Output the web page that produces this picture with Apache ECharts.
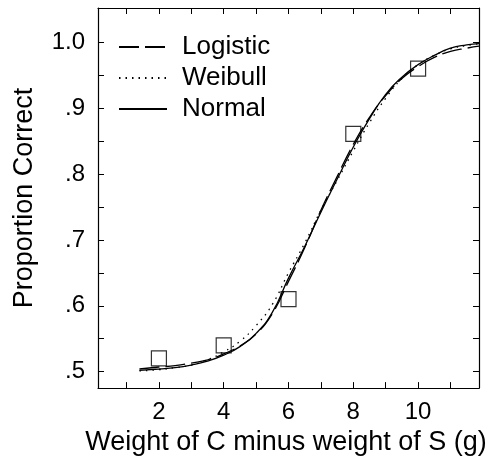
<!DOCTYPE html>
<html>
<head>
<meta charset="utf-8">
<script src="https://cdn.jsdelivr.net/npm/echarts@6/dist/echarts.min.js"></script>
<style>
  html, body { margin: 0; padding: 0; background: #fff; }
  #main { width: 498px; height: 461px; }
</style>
</head>
<body>
<div id="main"></div>
<script>
// observed proportions
const weightDiff = [2, 4, 6, 8, 10];
const observed = [0.52, 0.54, 0.61, 0.861, 0.96];

// fitted curves
const curveX = [1.4, 2, 2.5, 3, 3.5, 4, 4.5, 5, 5.5, 6, 6.5, 7, 7.5, 8, 8.5, 9, 9.5, 10, 10.5, 11, 11.5, 11.88];
const logistic = [0.504, 0.507, 0.509, 0.513, 0.518, 0.527, 0.539, 0.557, 0.588, 0.637, 0.688, 0.745, 0.796, 0.845, 0.886, 0.919, 0.945, 0.963, 0.977, 0.986, 0.991, 0.994];
const weibull = [0.501, 0.503, 0.506, 0.510, 0.518, 0.530, 0.546, 0.570, 0.602, 0.650, 0.695, 0.745, 0.790, 0.835, 0.878, 0.915, 0.945, 0.966, 0.980, 0.990, 0.995, 0.998];
const normal = [0.502, 0.504, 0.506, 0.510, 0.516, 0.525, 0.538, 0.558, 0.590, 0.642, 0.690, 0.742, 0.792, 0.841, 0.884, 0.921, 0.947, 0.966, 0.980, 0.991, 0.996, 0.998];

const xTicks = [1, 2, 3, 4, 5, 6, 7, 8, 9, 10, 11];
const xLabels = [2, 4, 6, 8, 10];
const yTicks = [0.5, 0.55, 0.6, 0.65, 0.7, 0.75, 0.8, 0.85, 0.9, 0.95, 1.0];
const yLabels = [0.5, 0.6, 0.7, 0.8, 0.9, 1.0];

const font = 'Liberation Sans, Arial, Helvetica, sans-serif';
const pairs = (xs, ys) => xs.map((x, i) => [x, ys[i]]);

const myChart = echarts.init(document.getElementById('main'));

const lineAxis = { show: true, lineStyle: { color: '#000', width: 1.2 } };
const tickIn = (vals) => ({ show: true, inside: true, length: 6, customValues: vals, lineStyle: { color: '#000', width: 1 } });

const option = {
  backgroundColor: '#fff',
  animation: false,
  grid: { left: 98, top: 8, right: 19, bottom: 71 },
  legend: {
    orient: 'vertical',
    left: 113,
    top: 29,
    itemWidth: 48,
    itemHeight: 14,
    itemGap: 5,
    data: ['Logistic', 'Weibull', 'Normal'],
    itemStyle: { opacity: 0 },
    textStyle: { fontFamily: font, fontSize: 26, color: '#000', padding: [0, 0, 0, 10] }
  },
  xAxis: [{
    type: 'value',
    min: 0.12,
    max: 11.88,
    axisLine: lineAxis,
    axisTick: tickIn(xTicks),
    splitLine: { show: false },
    axisLabel: { customValues: xLabels, margin: 12, fontFamily: font, fontSize: 24, color: '#000' },
    name: 'Weight of C minus weight of S (g)',
    nameLocation: 'middle',
    nameGap: 36,
    nameTextStyle: { fontFamily: font, fontSize: 27, color: '#000', padding: [0, 5, 0, 0] }
  }, {
    type: 'value',
    position: 'top',
    min: 0.12,
    max: 11.88,
    axisLine: lineAxis,
    axisTick: tickIn(xTicks),
    splitLine: { show: false },
    axisLabel: { show: false }
  }],
  yAxis: [{
    type: 'value',
    min: 0.475,
    max: 1.052,
    axisLine: lineAxis,
    axisTick: tickIn(yTicks),
    splitLine: { show: false },
    axisLabel: {
      customValues: yLabels,
      margin: 13,
      fontFamily: font, fontSize: 24, color: '#000',
      formatter: v => v >= 0.999 ? '1.0' : v.toFixed(1).replace(/^0/, '')
    },
    name: 'Proportion Correct',
    nameLocation: 'middle',
    nameGap: 60,
    nameTextStyle: { fontFamily: font, fontSize: 27, color: '#000' }
  }, {
    type: 'value',
    position: 'right',
    min: 0.475,
    max: 1.052,
    axisLine: lineAxis,
    axisTick: tickIn(yTicks),
    splitLine: { show: false },
    axisLabel: { show: false }
  }],
  series: [
    {
      name: 'Logistic', type: 'line', symbol: 'none', smooth: true,
      data: pairs(curveX, logistic),
      lineStyle: { color: '#000', width: 1.3, type: [20, 6] },
      itemStyle: { color: '#000' }
    },
    {
      name: 'Weibull', type: 'line', symbol: 'none', smooth: true,
      data: pairs(curveX, weibull),
      lineStyle: { color: '#000', width: 1.3, type: [1.5, 5] },
      itemStyle: { color: '#000' }
    },
    {
      name: 'Normal', type: 'line', symbol: 'none', smooth: true,
      data: pairs(curveX, normal),
      lineStyle: { color: '#000', width: 1.3, type: 'solid' },
      itemStyle: { color: '#000' }
    },
    {
      name: 'Observed', type: 'scatter', symbol: 'rect', symbolSize: 15,
      data: pairs(weightDiff, observed),
      itemStyle: { color: 'rgba(0,0,0,0)', borderColor: '#000', borderWidth: 1.2 }
    }
  ]
};

myChart.setOption(option, true);
window.addEventListener('resize', function () {
  myChart.resize();
});
</script>
</body>
</html>
